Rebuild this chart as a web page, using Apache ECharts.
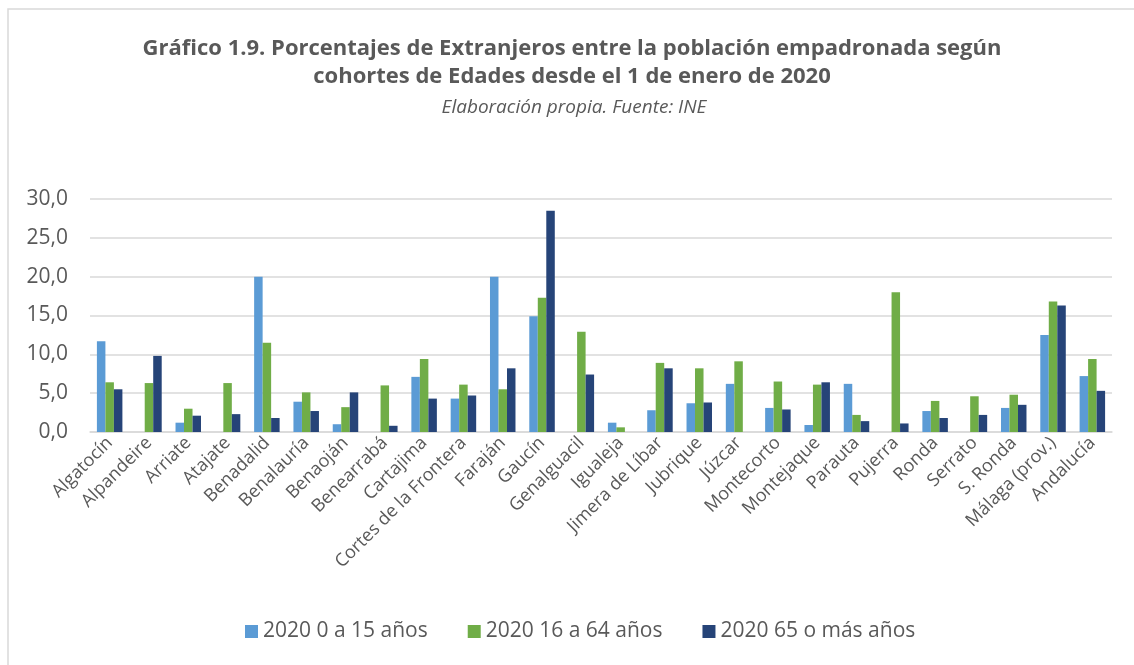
<!DOCTYPE html>
<html>
<head>
<meta charset="utf-8">
<script src="https://cdn.jsdelivr.net/npm/echarts@6/dist/echarts.min.js"></script>
<style>
  html, body { margin: 0; padding: 0; background: #fff; }
  #chart { width: 1134px; height: 665px; }
</style>
</head>
<body>
<div id="chart"></div>
<script>
var municipios = ["Algatocín", "Alpandeire", "Arriate", "Atajate", "Benadalid", "Benalauría",
  "Benaoján", "Benearrabá", "Cartajima", "Cortes de la Frontera", "Faraján", "Gaucín",
  "Genalguacil", "Igualeja", "Jimera de Líbar", "Jubrique", "Júzcar", "Montecorto", "Montejaque",
  "Parauta", "Pujerra", "Ronda", "Serrato", "S. Ronda", "Málaga (prov.)", "Andalucía"];
// 0 a 15 años (null = sin barra)
var edad0a15 = [11.7, null, 1.2, null, 20.0, 3.9, 1.0, null, 7.1, 4.3, 20.0, 14.9,
  null, 1.2, 2.8, 3.7, 6.2, 3.1, 0.9, 6.2, null, 2.7, null, 3.1, 12.5, 7.2];
var edad16a64 = [6.4, 6.3, 3.0, 6.3, 11.5, 5.1, 3.2, 6.0, 9.4, 6.1, 5.5, 17.3,
  12.9, 0.6, 8.9, 8.2, 9.1, 6.5, 6.1, 2.2, 18.0, 4.0, 4.6, 4.8, 16.8, 9.4];
var edad65mas = [5.5, 9.8, 2.1, 2.3, 1.8, 2.7, 5.1, 0.8, 4.3, 4.7, 8.2, 28.5,
  7.4, null, 8.2, 3.8, null, 2.9, 6.4, 1.4, 1.1, 1.8, 2.2, 3.5, 16.3, 5.3];
var seriesNames = ["2020 0 a 15 años", "2020 16 a 64 años", "2020 65 o más años"];
var colores = ["#5B9BD5", "#70AD47", "#264478"];

var chart = echarts.init(document.getElementById("chart"));
var fuente = "'Open Sans', sans-serif";

function serie(i, datos) {
  return {
    name: seriesNames[i],
    type: "bar",
    data: datos,
    barWidth: 8.5,
    barGap: "0%",
    itemStyle: { color: colores[i] }
  };
}

var option = {
  animation: false,
  textStyle: { fontFamily: fuente },
  graphic: [
    {
      type: "rect",
      shape: { x: 8, y: 9, width: 1200, height: 700 },
      style: { fill: "none", stroke: "#D9D9D9", lineWidth: 1.5 },
      silent: true
    }
  ],
  title: [
    {
      text: "Gráfico 1.9. Porcentajes de Extranjeros entre la población empadronada según\ncohortes de Edades desde el 1 de enero de 2020",
      left: 567,
      textAlign: "center",
      top: 30,
      textStyle: { fontFamily: fuente, fontSize: 22, fontWeight: "bold", color: "#595959", lineHeight: 28 }
    },
    {
      text: "Elaboración propia. Fuente: INE",
      left: 569,
      textAlign: "center",
      top: 93,
      textStyle: { fontFamily: fuente, fontSize: 19, fontStyle: "italic", fontWeight: "normal", color: "#595959" }
    }
  ],
  legend: {
    bottom: 18,
    left: 240,
    itemWidth: 13,
    itemHeight: 13,
    itemGap: 40,
    icon: "rect",
    textStyle: { fontFamily: fuente, fontSize: 21, color: "#595959" },
    data: seriesNames
  },
  grid: { left: 90, right: 22, top: 199, bottom: 233, containLabel: false },
  xAxis: {
    type: "category",
    data: municipios,
    axisTick: { show: false },
    axisLine: { lineStyle: { color: "#D9D9D9", width: 1.5 } },
    axisLabel: { rotate: 45, interval: 0, fontSize: 18, color: "#595959", margin: 8, fontFamily: fuente }
  },
  yAxis: {
    type: "value",
    min: 0,
    max: 30,
    interval: 5,
    axisLine: { show: false },
    axisTick: { show: false },
    splitLine: { lineStyle: { color: "#D9D9D9", width: 1.5 } },
    axisLabel: {
      fontSize: 21,
      color: "#595959",
      margin: 22,
      fontFamily: fuente,
      formatter: function (v) { return v.toFixed(1).replace(".", ","); }
    }
  },
  series: [serie(0, edad0a15), serie(1, edad16a64), serie(2, edad65mas)]
};
chart.setOption(option);
</script>
</body>
</html>
